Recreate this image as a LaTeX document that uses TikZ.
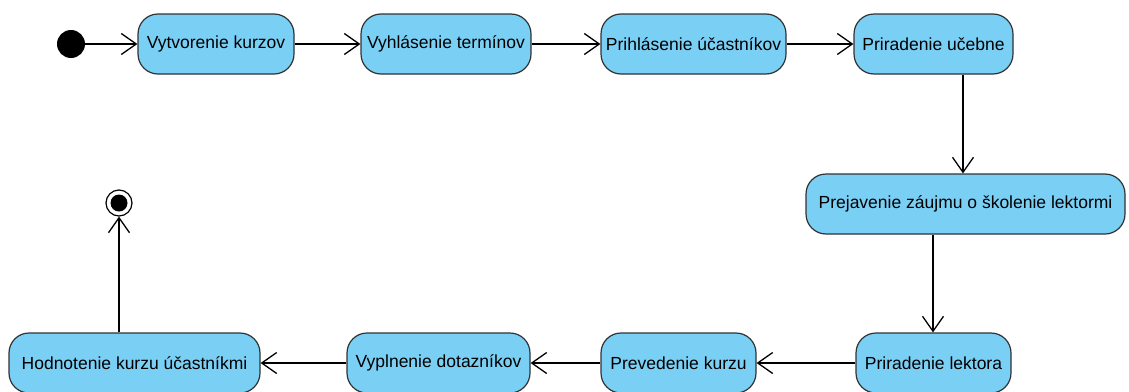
\documentclass[tikz,border=0pt]{standalone}
\usepackage{fontspec}
\setmainfont{Liberation Sans}
\usetikzlibrary{arrows.meta}
\definecolor{actfill}{RGB}{122,207,245}
\definecolor{actline}{RGB}{50,50,50}
\begin{document}
\begin{tikzpicture}[x=1pt,y=-1pt,
  action/.style={draw=actline, line width=1.2pt, fill=actfill, rounded corners=20pt,
    minimum height=60pt, inner sep=0pt, font=\fontsize{17.5}{20}\selectfont},
  flow/.style={draw=black, line width=1.3pt,
    -{Straight Barb[length=15pt,width=21pt,line width=1.3pt]}}]
\useasboundingbox (0,0) rectangle (1129,391);
% start and end
\node[circle, fill=black, minimum size=28pt, inner sep=0pt] (start) at (71,44) {};
\node[circle, draw=black, line width=1.2pt, fill=white, minimum size=26pt, inner sep=0pt] (final) at (119,203) {};
\fill[black] (final.center) circle (8.5pt);
% top row
\node[action, minimum width=156pt] (a1) at (216,44) {Vytvorenie kurzov};
\node[action, minimum width=170pt] (a2) at (446,44) {Vyhlásenie termínov};
\node[action, minimum width=185pt] (a3) at (693.5,44) {Prihlásenie účastníkov};
\node[action, minimum width=159pt] (a4) at (933.5,44) {Priradenie učebne};
% right column
\node[action, minimum width=319pt] (a5) at (965.5,204) {Prejavenie záujmu o školenie lektormi};
% bottom row
\node[action, minimum width=155pt] (a6) at (933.5,363) {Priradenie lektora};
\node[action, minimum width=155pt] (a7) at (678.5,363) {Prevedenie kurzu};
\node[action, minimum width=183pt] (a8) at (438.5,363) {Vyplnenie dotazníkov};
\node[action, minimum width=251pt] (a9) at (134.5,363) {Hodnotenie kurzu účastníkmi};
% transitions
\draw[flow] (start) -- (a1);
\draw[flow] (a1) -- (a2);
\draw[flow] (a2) -- (a3);
\draw[flow] (a3) -- (a4);
\draw[flow] (a4.south -| 963,0) -- (a5.north -| 963,0);
\draw[flow] (a5.south -| 933,0) -- (a6.north -| 933,0);
\draw[flow] (a6) -- (a7);
\draw[flow] (a7) -- (a8);
\draw[flow] (a8) -- (a9);
\draw[flow] (a9.north -| final) -- (final);
\end{tikzpicture}
\end{document}
